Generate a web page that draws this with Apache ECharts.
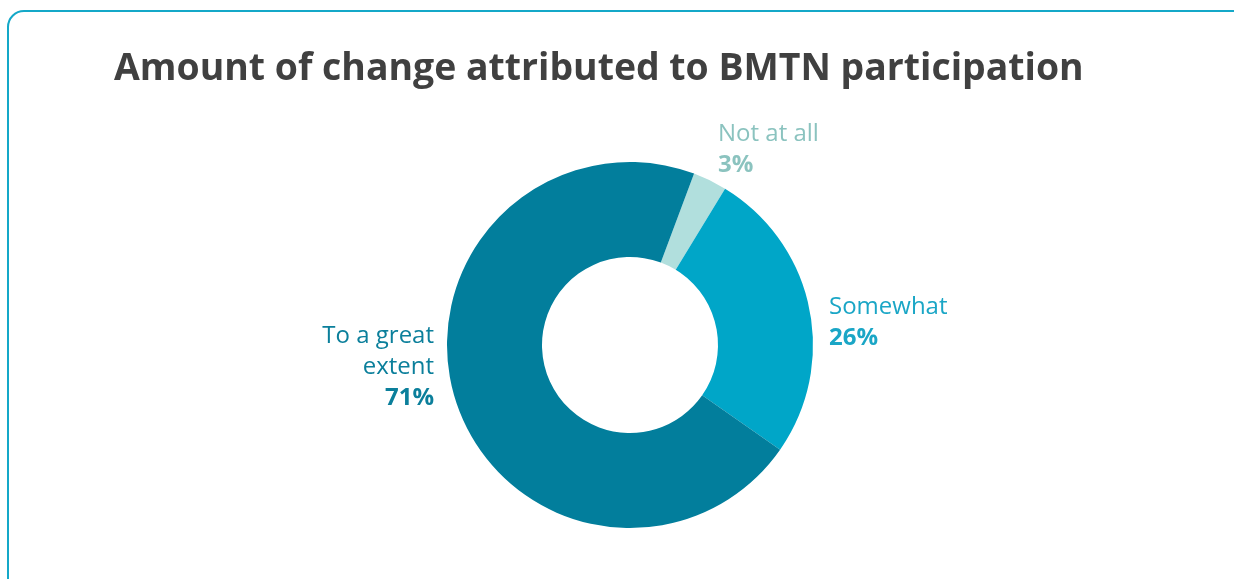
<!DOCTYPE html>
<html>
<head>
<meta charset="utf-8">
<script src="https://cdn.jsdelivr.net/npm/echarts@6/dist/echarts.min.js"></script>
<style>
  html, body { margin: 0; padding: 0; background: #ffffff; overflow: hidden; }
  #frame { position: absolute; left: 7px; top: 10px; width: 1260px; height: 590px;
           border: 2px solid #14a8c8; border-radius: 17px; box-sizing: border-box; }
  #chart { position: absolute; left: 0; top: 0; width: 1234px; height: 579px; }
</style>
</head>
<body>
<div id="frame"></div>
<div id="chart"></div>
<script>
const titleText = 'Amount of change attributed to BMTN participation';
const categories = ['Not at all', 'Somewhat', 'To a great extent'];
const values = [3, 26, 71];
const sliceColors = ['#b1dfdd', '#00a6c8', '#027e9c'];
const labelColors = ['#8bc3bf', '#1aa6c6', '#0b7f9b'];
const labelAnchors = [
  { x: 718, y: 150, align: 'left' },
  { x: 829, y: 323, align: 'left' },
  { x: 434, y: 367, align: 'right' }
];

function wrapName(name) {
  if (name.length <= 12) return name;
  const cut = name.lastIndexOf(' ', 11);
  return cut > 0 ? name.slice(0, cut) + '\n' + name.slice(cut + 1) : name;
}

const chart = echarts.init(document.getElementById('chart'));
const data = categories.map((name, i) => ({
  name: name,
  value: values[i],
  itemStyle: { color: sliceColors[i] },
  label: {
    color: labelColors[i],
    align: labelAnchors[i].align,
    rich: {
      n: { color: labelColors[i], fontSize: 24, lineHeight: 31, fontFamily: 'Open Sans', align: labelAnchors[i].align },
      p: { color: labelColors[i], fontSize: 24, lineHeight: 31, fontFamily: 'Open Sans', fontWeight: 'bold', align: labelAnchors[i].align }
    }
  }
}));

chart.setOption({
  animation: false,
  title: {
    text: titleText,
    left: 109,
    top: 46,
    textStyle: { fontFamily: 'Open Sans', fontWeight: 'bold', fontSize: 37.4, color: '#404040' }
  },
  series: [{
    type: 'pie',
    center: [630, 345],
    radius: [88, 183],
    startAngle: 69.5,
    clockwise: true,
    data: data,
    label: {
      show: true,
      position: 'outside',
      fontFamily: 'Open Sans',
      fontSize: 24,
      lineHeight: 31,
      formatter: function (p) {
        return wrapName(p.name).split('\n').map(s => '{n|' + s + '}').join('\n') + '\n{p|' + p.value + '%}';
      }
    },
    labelLine: { show: false },
    labelLayout: function (params) {
      const a = labelAnchors[params.dataIndex];
      return { x: a.x, y: a.y, align: a.align, verticalAlign: 'middle' };
    },
    emphasis: { disabled: true }
  }]
});
</script>
</body>
</html>
